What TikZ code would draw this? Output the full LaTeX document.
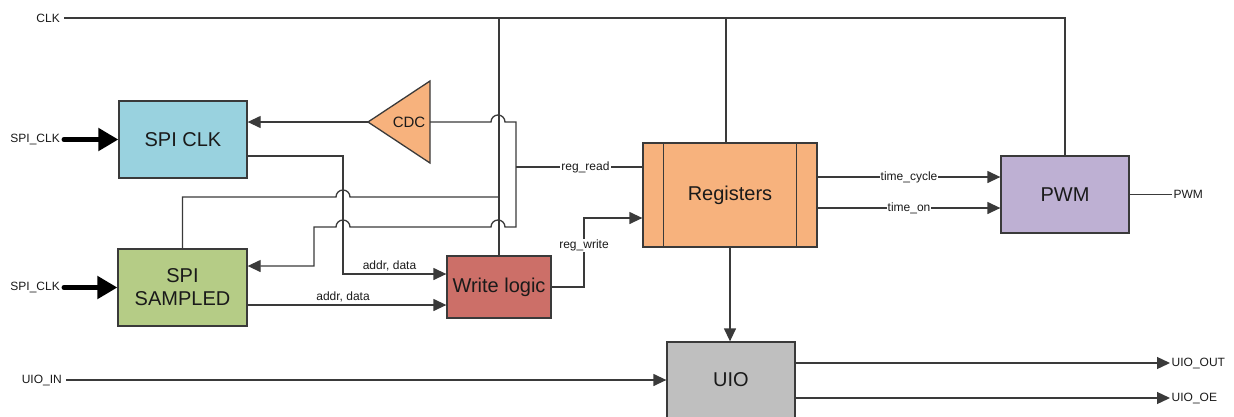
\documentclass[tikz,border=0pt]{standalone}
\usepackage{fontspec}
\setmainfont{Liberation Sans}
\usetikzlibrary{arrows.meta,calc}
\definecolor{ln}{HTML}{3A3A3A}
\definecolor{txt}{HTML}{1A1A1A}
\definecolor{cblue}{HTML}{99D2DF}
\definecolor{cgreen}{HTML}{B5CC86}
\definecolor{cred}{HTML}{CC6F68}
\definecolor{corange}{HTML}{F7B27D}
\definecolor{cpurple}{HTML}{BEB0D3}
\definecolor{cgray}{HTML}{BFBFBF}
\begin{document}
\begin{tikzpicture}[x=1pt,y=-1pt,
  box/.style={draw=ln,line width=1.3pt,inner sep=0pt,text=txt,font=\fontsize{20}{23}\selectfont,align=center},
  wire/.style={draw=ln,line width=1.3pt},
  arr/.style={wire,-{Triangle[length=13pt,width=12pt]}},
  fat/.style={draw=black,line width=5pt,line cap=round,-{Triangle[length=20pt,width=22pt]}},
  lbl/.style={font=\fontsize{12}{14}\selectfont,inner sep=1pt,text=txt}]
\useasboundingbox (0,0) rectangle (1234,416);
\clip (0,0) rectangle (1234,416);

% boxes
\node[box,fill=cblue,minimum width=128pt,minimum height=77pt] (spiclk) at (183,139.5) {SPI CLK};
\node[box,fill=cgreen,minimum width=129pt,minimum height=77pt] (spis) at (182.5,287.5) {SPI\\SAMPLED};
\node[box,fill=cred,minimum width=104pt,minimum height=62pt] (wl) at (499,287) {Write logic};
\node[box,fill=corange,minimum width=174pt,minimum height=104pt] (reg) at (730,195) {Registers};
\draw[ln,line width=1.2pt] ([xshift=21pt]reg.north west) -- ([xshift=21pt]reg.south west);
\draw[ln,line width=1.2pt] ([xshift=-21pt]reg.north east) -- ([xshift=-21pt]reg.south east);
\node[box,fill=cpurple,minimum width=128pt,minimum height=77pt] (pwm) at (1065,194.5) {PWM};
\node[box,fill=cgray,minimum width=128pt,minimum height=80pt] (uio) at (731,382) {};
\node[box,draw=none] at (731,380) {UIO};

% CDC
\coordinate (cdctip) at (368,122);
\coordinate (cdcr) at (430,122);
\draw[ln,line width=1.3pt,fill=corange] (cdctip) -- (430,81) -- (430,163) -- cycle;
\node[text=txt,font=\fontsize{15}{17}\selectfont] (cdc) at (409,122) {CDC};

% CLK
\coordinate (clkin) at (64,18);
\node[lbl,anchor=east] at (61,18) {CLK};
\draw[wire] (clkin) -- (clkin -| pwm.north) -- (pwm.north);
\draw[wire] (wl.north) -- (wl.north |- clkin);
\draw[wire] ([xshift=-4pt]reg.north) -- ([xshift=-4pt]reg.north |- clkin);

% SPI_CLK inputs
\coordinate (sck1) at (64,139.5);
\coordinate (sck2) at (64,287.5);
\node[lbl,anchor=east] at (61,139.5) {SPI\_CLK};
\node[lbl,anchor=east] at (61,287.5) {SPI\_CLK};
\draw[fat] (sck1) -- (spiclk.west);
\draw[fat] (sck2) -- (spis.west);

% CDC -> SPI CLK
\draw[arr] (cdctip) -- (cdctip -| spiclk.east);

% CDC / reg_read bus
\coordinate (bus) at (516,167);
\draw[arr] (cdcr) -- (491,122) arc[start angle=180,end angle=0,radius=7pt] -- (516,122)
  -- (516,227) -- (505,227) arc[start angle=0,end angle=180,radius=7pt]
  -- (350,227) arc[start angle=0,end angle=180,radius=7pt]
  -- (314,227) -- (314,266) -- ([yshift=21.5pt]spis.east);
\draw[wire] (reg.west |- bus) -- node[lbl,fill=white,pos=0.45]{reg\_read} (bus);

% SPI SAMPLED top -> clock column
\draw[wire] (spis.north) -- (182.5,197) -- (336,197) arc[start angle=180,end angle=0,radius=7pt] -- (498,197);

% SPI CLK -> write logic
\draw[arr] ([yshift=-16.5pt]spiclk.east) -- (343,156) -- (343,274)
  -- node[lbl,above=1pt,pos=0.45]{addr, data} ([yshift=13pt]wl.west);

% SPI SAMPLED -> write logic
\draw[arr] ([yshift=-17.5pt]spis.east)
  -- node[lbl,above=1pt,pos=0.48]{addr, data} ([yshift=-18pt]wl.west);

% reg_write
\draw[arr] (wl.east) -- (584,287) -- node[lbl,fill=white,pos=0.6]{reg\_write} (584,218) -- ([yshift=-23pt]reg.west);

% Registers -> PWM
\draw[arr] ([yshift=18pt]reg.east) -- node[lbl,fill=white]{time\_cycle} ([yshift=17.5pt]pwm.west);
\draw[arr] ([yshift=-13pt]reg.east) -- node[lbl,fill=white]{time\_on} ([yshift=-13.5pt]pwm.west);
\draw[wire] (pwm.east) -- (1172,194.5) node[lbl,anchor=west]{PWM};

% Registers -> UIO
\draw[arr] (reg.south) -- (reg.south |- uio.north);

% UIO
\coordinate (uioin) at (66,380);
\node[lbl,anchor=east] at (63,380) {UIO\_IN};
\draw[arr] (uioin) -- (uioin -| uio.west);
\draw[arr] ([yshift=19pt]uio.east) -- (1170,363) node[lbl,anchor=west]{UIO\_OUT};
\draw[arr] ([yshift=-16pt]uio.east) -- (1170,398) node[lbl,anchor=west]{UIO\_OE};
\end{tikzpicture}
\end{document}
